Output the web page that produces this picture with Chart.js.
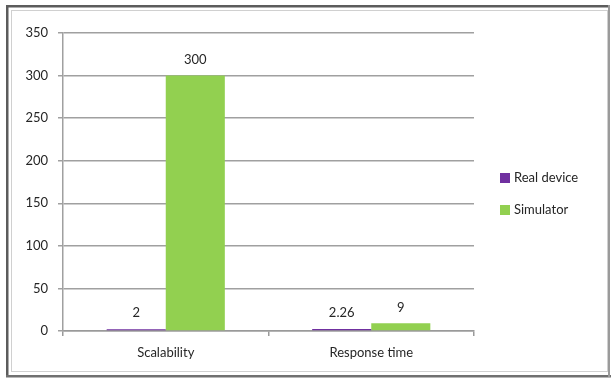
<!DOCTYPE html>
<html>
<head>
<meta charset="utf-8">
<script src="https://cdn.jsdelivr.net/npm/chart.js@4"></script>
<style>
  html, body { margin: 0; padding: 0; background: #ffffff; }
  #wrap { position: relative; width: 613px; height: 379px; }
</style>
</head>
<body>
<div id="wrap"><canvas id="chart" width="613" height="379"></canvas></div>
<script>
// Measurement categories
const categories = ['Scalability', 'Response time'];
// Series
const seriesNames = ['Real device', 'Simulator'];
const realDevice = [2, 2.26];
const simulator = [300, 9];
// Value labels shown above the bars
const realDeviceLabels = ['2', '2.26'];
const simulatorLabels = ['300', '9'];
// Y axis ticks
const yTicks = [0, 50, 100, 150, 200, 250, 300, 350];

const FONT = 'Lato, "Liberation Sans", sans-serif';
const TEXT = '#262626';

// Window frame around the chart
const framePlugin = {
  id: 'frame',
  beforeDraw(chart) {
    const c = chart.ctx;
    c.save();
    c.fillStyle = '#ffffff';
    c.fillRect(0, 0, chart.width, chart.height);
    // inner light frame
    c.strokeStyle = '#d0d0d0';
    c.lineWidth = 1;
    c.strokeRect(11.5, 10.5, 596, 361);
    // dark outer edges
    c.fillStyle = '#5c5c5c';
    c.fillRect(6, 5, 602, 2.5);   // top
    c.fillRect(6, 5, 2.5, 372);   // left
    c.fillStyle = '#707070';
    c.fillRect(6, 375, 605, 2.5); // bottom
    c.fillStyle = '#9a9a9a';
    c.fillRect(608, 5, 2, 372);   // right
    c.restore();
  }
};

// Value labels over each bar
const valueLabelPlugin = {
  id: 'valueLabels',
  afterDatasetsDraw(chart) {
    const c = chart.ctx;
    const labelSets = [realDeviceLabels, simulatorLabels];
    c.save();
    c.font = '13px ' + FONT;
    c.fillStyle = TEXT;
    c.textAlign = 'center';
    c.textBaseline = 'middle';
    chart.data.datasets.forEach((ds, i) => {
      chart.getDatasetMeta(i).data.forEach((el, j) => {
        c.fillText(labelSets[i][j], el.x, el.y - 16);
      });
    });
    c.restore();
  }
};

// Legend on the right with square swatches
const sideLegendPlugin = {
  id: 'sideLegend',
  afterDraw(chart) {
    const c = chart.ctx;
    const x = 500, y0 = 178, step = 32;
    c.save();
    c.font = '13px ' + FONT;
    c.textBaseline = 'middle';
    c.textAlign = 'left';
    chart.data.datasets.forEach((ds, i) => {
      const y = y0 + i * step;
      c.fillStyle = ds.backgroundColor;
      c.fillRect(x, y - 5, 10, 10);
      c.fillStyle = TEXT;
      c.fillText(ds.label, x + 14, y);
    });
    c.restore();
  }
};

new Chart(document.getElementById('chart'), {
  type: 'bar',
  data: {
    labels: categories,
    datasets: [
      { label: seriesNames[0], data: realDevice, backgroundColor: '#7030a0' },
      { label: seriesNames[1], data: simulator, backgroundColor: '#92d050' }
    ]
  },
  options: {
    responsive: false,
    animation: false,
    devicePixelRatio: 1,
    layout: { padding: { left: 0, top: 33, right: 139, bottom: 16 } },
    datasets: { bar: { barPercentage: 1, categoryPercentage: 0.575 } },
    plugins: {
      legend: { display: false },
      tooltip: { enabled: false }
    },
    scales: {
      x: {
        grid: {
          offset: true,
          drawOnChartArea: false,
          color: '#9a9a9a',
          lineWidth: 1.5,
          tickLength: 5
        },
        border: { color: '#9a9a9a', width: 1.5 },
        ticks: { color: TEXT, font: { family: FONT, size: 13 }, padding: 9 },
        afterFit(scale) { scale.height = 32; }
      },
      y: {
        min: 0,
        max: 350,
        afterBuildTicks(scale) { scale.ticks = yTicks.map(v => ({ value: v })); },
        grid: { color: '#a0a0a0', lineWidth: 1.5, tickLength: 5 },
        border: { color: '#a0a0a0', width: 1.5 },
        ticks: { color: TEXT, font: { family: FONT, size: 13 }, padding: 10 },
        afterFit(scale) { scale.width = 63; }
      }
    }
  },
  plugins: [framePlugin, valueLabelPlugin, sideLegendPlugin]
});
</script>
</body>
</html>
